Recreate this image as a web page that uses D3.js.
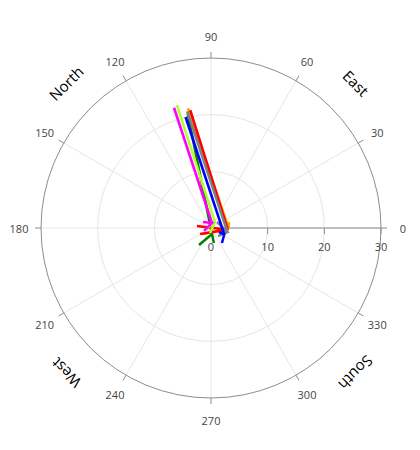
<!DOCTYPE html>
<html><head><meta charset="utf-8">
<script src="https://cdn.jsdelivr.net/npm/d3@7"></script>
<style>body{margin:0;background:#fff}</style>
</head><body><svg id="c" width="420" height="450"></svg>
<script>
// ---- data ----
const names = ["green","orange","red","grey","blue","yellowgreen","magenta"];
const colors = ["#008000","#ffa500","#ff0000","#808080","#0000ff","#adff2f","#ff00ff"];
// tail (outer end) of each arrow, polar (r, deg)
const tailR = [20.6, 21.5, 21.1, 21.0, 20.1, 22.5, 22.2];
const tailT = [101.5, 100.9, 100.0, 101.5, 102.9, 105.5, 107.1];
// tip (inner end)
const tipR = [1.07, 3.1, 3.0, 3.0, 2.6, 1.27, 0.9];
const tipT = [279.5, 0, 354, 346, 334, 56, 79];
// arrow head barbs
const barbAR = [3.67, 1.76, 2.5, 1.5, 1.58, 1.12, 1.76];
const barbAT = [234.8, 216.9, 172, 45, 333, 198, 143];
const barbBR = [2.7, 3.35, 2.2, 1.88, 3.28, 0.9, 1.34];
const barbBT = [281, 18.4, 209, 311, 306, 259, 203];
const radialTicks = [0, 10, 20, 30];
const angularTicks = [0,30,60,90,120,150,180,210,240,270,300,330];
const dirLabels = ["East","North","West","South"];
const dirAngles = [45,135,225,315];

// ---- layout ----
const cx = 211, cy = 228, R = 170;
const svg = d3.select("#c");
const r = d3.scaleLinear().domain([0,30]).range([0,R]);
const rad = d => d*Math.PI/180;
const px = (rv, t) => cx + r(rv)*Math.cos(rad(t));
const py = (rv, t) => cy - r(rv)*Math.sin(rad(t));
const font = "'Open Sans', 'Noto Sans', sans-serif";

// grid
const g = svg.append("g");
g.selectAll("line.spoke").data(angularTicks).join("line")
  .attr("x1",cx).attr("y1",cy)
  .attr("x2",t=>px(30,t)).attr("y2",t=>py(30,t))
  .attr("stroke","#e6e6e6").attr("stroke-width",1);
g.selectAll("circle.grid").data([10,20]).join("circle")
  .attr("cx",cx).attr("cy",cy).attr("r",d=>r(d))
  .attr("fill","none").attr("stroke","#e6e6e6").attr("stroke-width",1);
g.append("circle").attr("cx",cx).attr("cy",cy).attr("r",R)
  .attr("fill","none").attr("stroke","#8c8c8c").attr("stroke-width",1);
// angular ticks
g.selectAll("line.atick").data(angularTicks).join("line")
  .attr("x1",t=>px(30,t)).attr("y1",t=>py(30,t))
  .attr("x2",t=>cx+(R+6)*Math.cos(rad(t))).attr("y2",t=>cy-(R+6)*Math.sin(rad(t)))
  .attr("stroke","#8c8c8c");
g.selectAll("text.alab").data(angularTicks).join("text")
  .attr("x",t=>cx+192*Math.cos(rad(t))).attr("y",t=>cy-192*Math.sin(rad(t)))
  .attr("text-anchor","middle").attr("dominant-baseline","central")
  .attr("font-family",font).attr("font-size",11).attr("fill","#444")
  .text(t=>t);
// radial axis
g.append("line").attr("x1",cx).attr("y1",cy).attr("x2",cx+R).attr("y2",cy)
  .attr("stroke","#8c8c8c");
g.selectAll("line.rtick").data(radialTicks.slice(1)).join("line")
  .attr("x1",d=>cx+r(d)).attr("x2",d=>cx+r(d)).attr("y1",cy).attr("y2",cy+6)
  .attr("stroke","#8c8c8c");
g.selectAll("text.rlab").data(radialTicks).join("text")
  .attr("x",d=>cx+r(d)).attr("y",cy+18)
  .attr("text-anchor","middle").attr("dominant-baseline","central")
  .attr("font-family",font).attr("font-size",11).attr("fill","#444")
  .text(d=>d);
// direction labels
g.selectAll("text.dir").data(dirLabels).join("text")
  .attr("transform",(d,i)=>{const a=dirAngles[i];
    return `translate(${cx+205*Math.cos(rad(a))},${cy-205*Math.sin(rad(a))}) rotate(${90-a})`;})
  .attr("text-anchor","middle").attr("dominant-baseline","central")
  .attr("font-family",font).attr("font-size",15).attr("fill","#000")
  .text(d=>d);

// arrows
const arrows = names.map((n,i)=>({n,i}));
const ag = svg.append("g");
const ga = ag.selectAll("g.arrow").data(arrows).join("g");
ga.append("line")
  .attr("x1",d=>px(tailR[d.i],tailT[d.i])).attr("y1",d=>py(tailR[d.i],tailT[d.i]))
  .attr("x2",d=>px(tipR[d.i],tipT[d.i])).attr("y2",d=>py(tipR[d.i],tipT[d.i]))
  .attr("stroke",d=>colors[d.i]).attr("stroke-width",2.6);
ga.append("polyline")
  .attr("points",d=>[[barbAR[d.i],barbAT[d.i]],[tipR[d.i],tipT[d.i]],[barbBR[d.i],barbBT[d.i]]]
     .map(p=>px(p[0],p[1])+","+py(p[0],p[1])).join(" "))
  .attr("fill","none").attr("stroke",d=>colors[d.i]).attr("stroke-width",2.5);
</script></body></html>
